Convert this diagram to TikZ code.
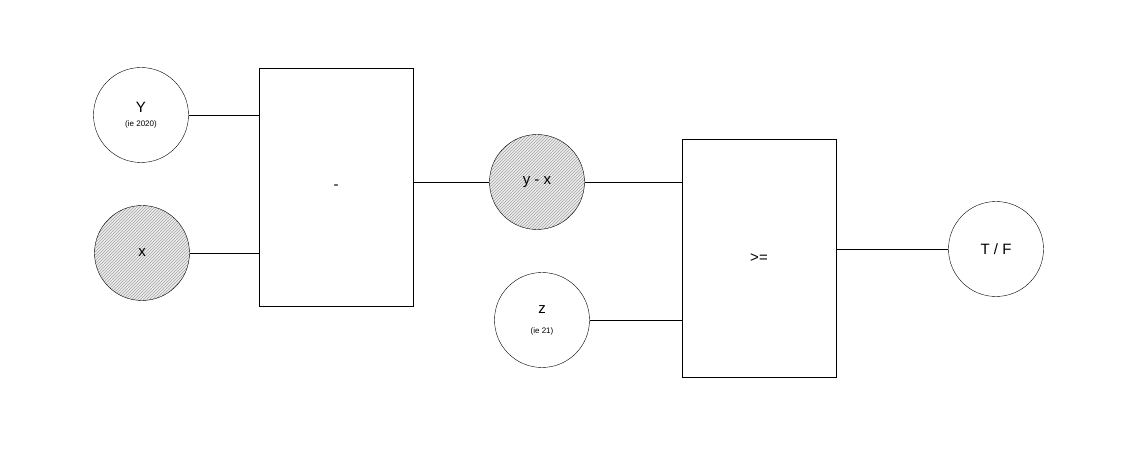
\documentclass[tikz,border=0pt]{standalone}
\usepackage{fontspec}
\setmainfont{Liberation Sans}
\usetikzlibrary{patterns}
\begin{document}
\begin{tikzpicture}[x=1pt,y=-1pt,
  circ/.style={draw,circle,minimum size=95pt,inner sep=0pt,align=center,font=\fontsize{15}{16}\selectfont},
  hatched/.style={circ,preaction={fill=gray!15},pattern=north east lines,pattern color=gray!70},
  box/.style={draw,minimum width=154pt,minimum height=238pt,font=\fontsize{15}{16}\selectfont},
  conn/.style={draw,line width=0.6pt}]
\useasboundingbox (0,0) rectangle (1141,470);
\node[circ] (y) at (141,115) {Y\\[-2pt]{\fontsize{8}{9}\selectfont (ie 2020)}};
\node[hatched] (x) at (142,253) {x};
\node[box] (b1) at (336,187) {-};
\node[hatched] (yx) at (537,182) {y - x};
\node[circ] (z) at (542,320) {z\\[4pt]{\fontsize{8}{9}\selectfont (ie 21)}};
\node[box] (b2) at (759,258) {>=};
\node[circ] (tf) at (996,249) {T / F};
\draw[conn] (y.east) -- (b1.west |- y.east);
\draw[conn] (x.east) -- (b1.west |- x.east);
\draw[conn] (b1.east |- yx.west) -- (yx.west);
\draw[conn] (yx.east) -- (b2.west |- yx.east);
\draw[conn] (z.east) -- (b2.west |- z.east);
\draw[conn] (b2.east |- tf.west) -- (tf.west);
\end{tikzpicture}
\end{document}
